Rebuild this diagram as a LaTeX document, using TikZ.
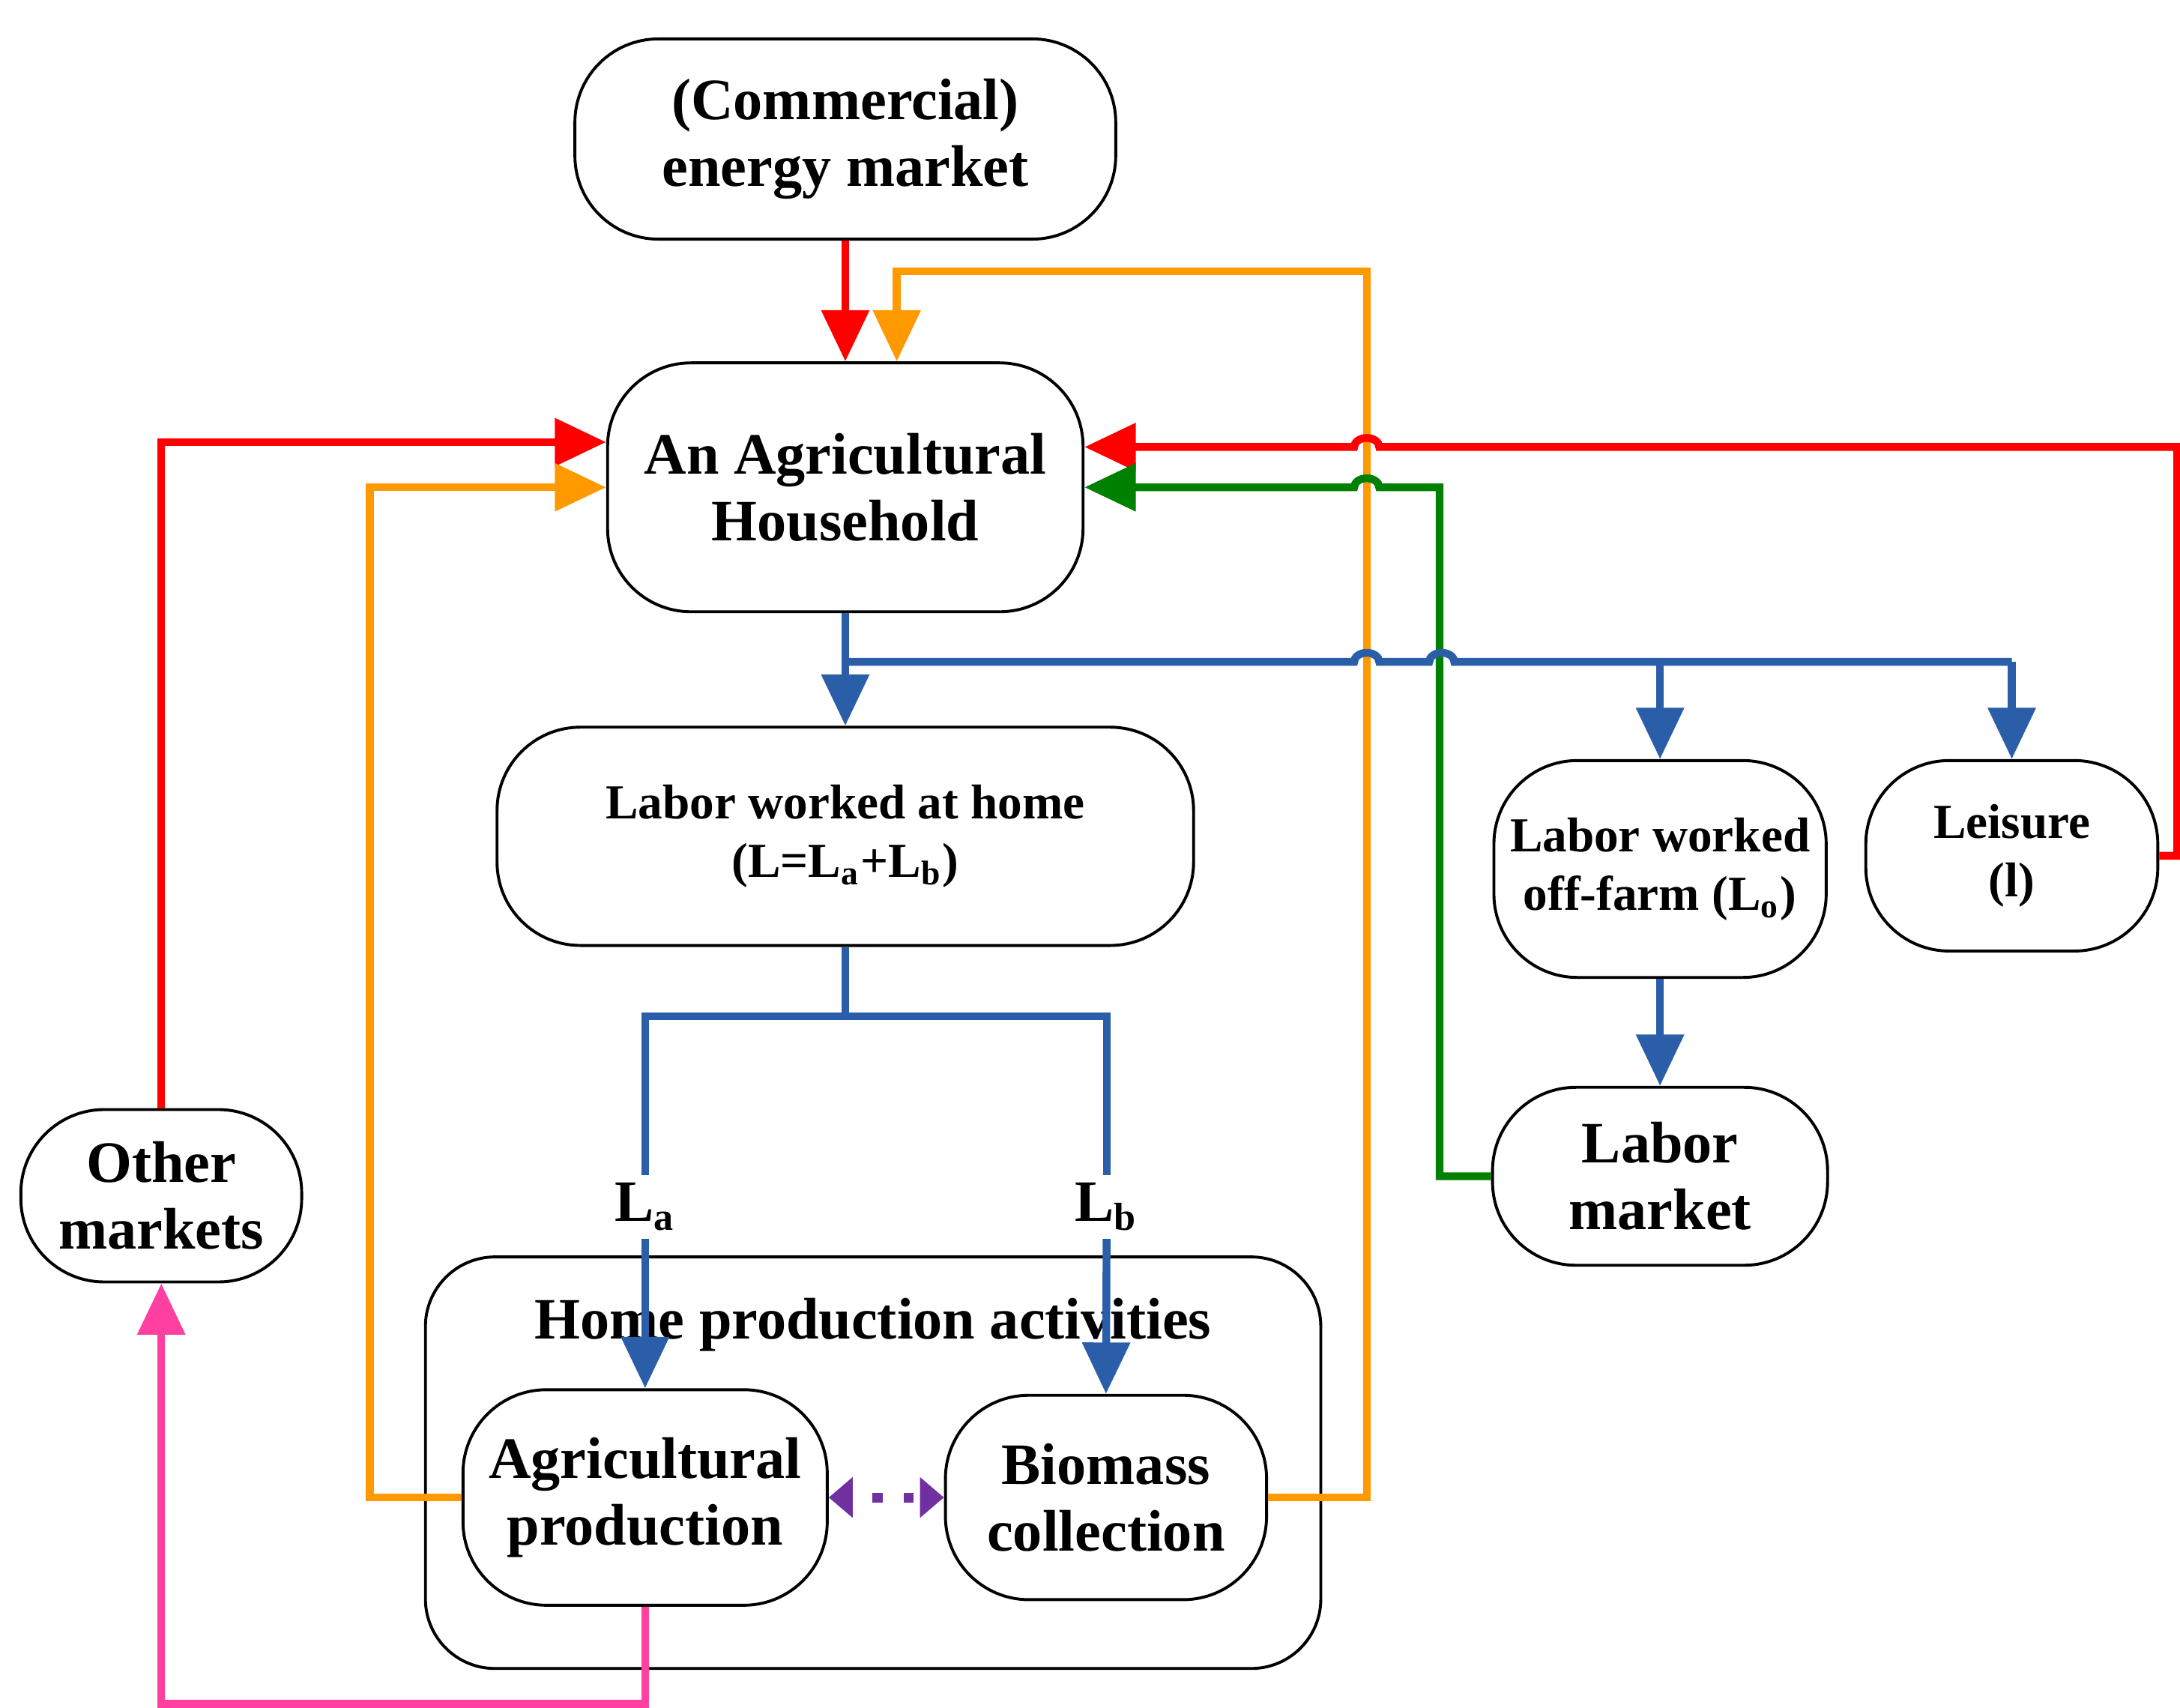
\documentclass[tikz,border=0pt]{standalone}
\usepackage{fontspec}
\setmainfont{Liberation Serif}
\usetikzlibrary{arrows.meta}

\definecolor{flowred}{RGB}{255,0,0}
\definecolor{flowora}{RGB}{255,153,0}
\definecolor{flowgrn}{RGB}{0,128,0}
\definecolor{flowblu}{RGB}{42,94,168}
\definecolor{flowpnk}{RGB}{255,64,160}
\definecolor{flowprp}{RGB}{112,48,160}

\begin{document}
\begin{tikzpicture}[
    >={Triangle[width=9.5pt,length=10.5pt]},
    % Box style: corner radius as argument
    box/.style={draw,rounded corners=#1,align=center,line width=0.6pt,inner sep=2pt},
    box/.default=0.6cm,
    % Text sizes
    big/.style={font=\fontsize{12}{13.6}\selectfont\bfseries},
    small/.style={font=\fontsize{10}{12}\selectfont\bfseries},
    % Coloured flow lines
    flow/.style={draw=#1,line width=1.6pt},
    lbl/.style={font=\fontsize{12}{13.6}\selectfont\bfseries,fill=white,inner sep=1.5pt}
]
\useasboundingbox (0,0) rectangle (15.68,-12.28);

% ==============================
% TUNING KNOBS
% ==============================
\def\xMid{6.08}   % main column x
\def\xOff{11.94}  % off-farm column x
\def\xOr{9.83}    % orange riser x
\def\xGr{10.37}   % green riser x
\def\yB{-4.76}    % blue bus y
\def\hx{0.09}     % hop half width
\def\hy{0.065}    % hop height

% ==============================
% MAIN COLUMN
% ==============================
\node[box,big,minimum width=3.89cm,minimum height=1.44cm] (comm)  at (\xMid,-1.00)  {(Commercial)\\energy market};
\node[box,big,minimum width=3.42cm,minimum height=1.79cm] (hh)    at (\xMid,-3.505) {An Agricultural\\Household};
\node[box,small,minimum width=5.01cm,minimum height=1.57cm] (lhome) at (\xMid,-6.015) {Labor worked at home\\(L=L\textsubscript{a}+L\textsubscript{b})};

% ==============================
% RIGHT SIDE
% ==============================
\node[box,small,minimum width=2.39cm,minimum height=1.56cm] (loff) at (\xOff,-6.25)  {Labor worked\\off-farm (L\textsubscript{o})};
\node[box,small,minimum width=2.10cm,minimum height=1.37cm] (leis) at (14.47,-6.155) {Leisure\\(l)};
\node[box,big,minimum width=2.41cm,minimum height=1.28cm]   (lmkt) at (\xOff,-8.46)  {Labor\\market};

% LEFT SIDE
\node[box,big,minimum width=2.02cm,minimum height=1.24cm]   (oth)  at (1.16,-8.60)   {Other\\markets};

% ==============================
% HOME PRODUCTION (container + two activities)
% ==============================
\node[box=0.5cm,minimum width=6.44cm,minimum height=2.96cm] (hpa) at (6.28,-10.52) {};
\node[big] (hpatitle) at (6.28,-9.53) {Home production activities};
\node[box,big,minimum width=2.62cm,minimum height=1.55cm] (agri) at (4.64,-10.77)  {Agricultural\\production};
\node[box,big,minimum width=2.31cm,minimum height=1.47cm] (bio)  at (7.955,-10.77) {Biomass\\collection};

% ==============================
% INFLOWS TO THE HOUSEHOLD
% ==============================
\draw[flow=flowred,->] (comm.south) -- (hh.north);
\draw[flow=flowora,->] (bio.east) -| (\xOr,-1.95) -| ([xshift=0.37cm]hh.north);
\draw[flow=flowred,->] (oth.north) |- ([yshift=0.325cm]hh.west);
\draw[flow=flowora,->] (agri.west) -- ++(-0.66,0) |- (hh.west);

% right side: hop over the orange riser
\draw[flow=flowred,->] (leis.east) -- ++(0.13,0) |- (\xOr+\hx,-3.215)
    arc[start angle=0,end angle=180,x radius=\hx,y radius=\hy] -- ([yshift=0.29cm]hh.east);
\draw[flow=flowgrn,->] (lmkt.west) -- ++(-0.37,0) |- (\xOr+\hx,-3.505)
    arc[start angle=0,end angle=180,x radius=\hx,y radius=\hy] -- (hh.east);

% ==============================
% LABOR ALLOCATION (blue)
% ==============================
\coordinate (bj) at (\xMid,\yB);
\draw[flow=flowblu,->] (hh.south) -- (lhome.north);
\draw[flow=flowblu] (bj) -- (\xOr-\hx,\yB)
    arc[start angle=180,end angle=0,x radius=\hx,y radius=\hy] -- (\xGr-\hx,\yB)
    arc[start angle=180,end angle=0,x radius=\hx,y radius=\hy] -- (leis.north |- bj);
\draw[flow=flowblu,->] (loff.north |- bj) -- (loff.north);
\draw[flow=flowblu,->] (leis.north |- bj) -- (leis.north);
\draw[flow=flowblu,->] (loff.south) -- (lmkt.north);

% split of home labor
\node[lbl] (la) at (4.64,-8.68) {L\textsubscript{a}};
\node[lbl] (lb) at (7.96,-8.68) {L\textsubscript{b}};
\draw[flow=flowblu] (lhome.south) -- ++(0,-0.50) coordinate (lj);
\draw[flow=flowblu] (lj) -| (la);
\draw[flow=flowblu] (lj) -| (lb);
\draw[flow=flowblu,->] (la) -- (agri.north);
\draw[flow=flowblu,->] (lb) -- (bio.north);

% ==============================
% OUTPUT TO OTHER MARKETS + LINK
% ==============================
\draw[flow=flowpnk,->] (agri.south) -- ++(0,-0.70) -| (oth.south);
\draw[draw=flowprp,line width=2pt,
      dash pattern=on 0pt off 4.4pt on 2pt off 4.4pt on 2pt off 30pt,
      {Triangle[width=8pt,length=4.9pt]}-{Triangle[width=8pt,length=4.9pt]}]
    (agri.east) -- (bio.west);
\end{tikzpicture}
\end{document}
